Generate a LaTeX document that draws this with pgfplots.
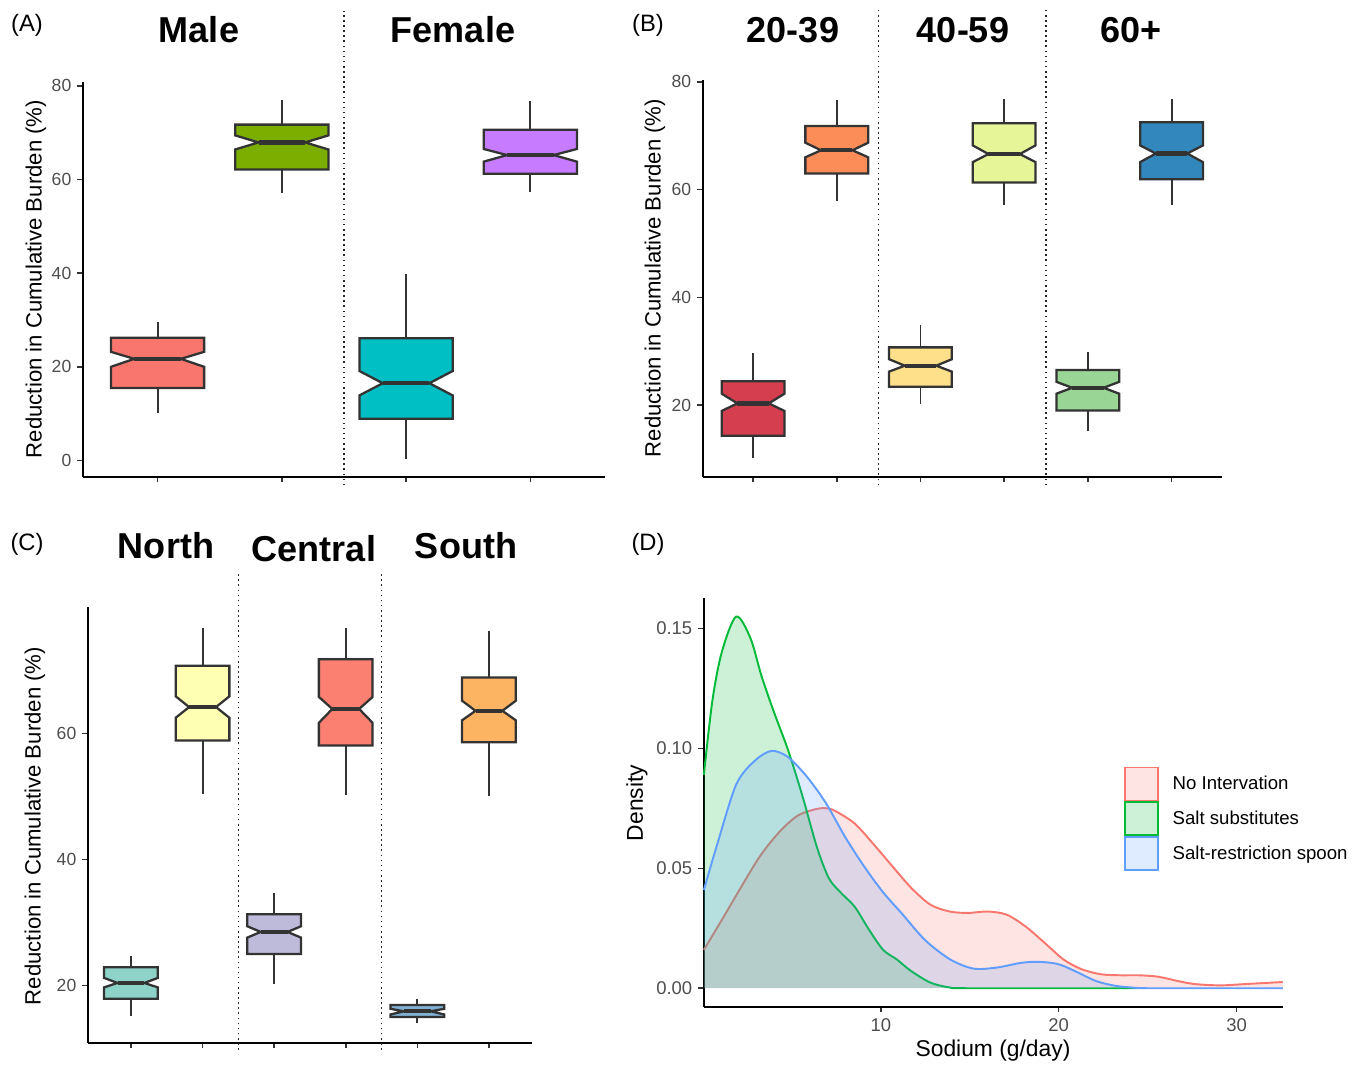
\documentclass[border=0pt]{standalone}
\usepackage{fontspec}
\setmainfont{Liberation Sans}
\usepackage{pgfplots}
\usepackage{pgfplotstable}
\pgfplotsset{compat=1.18}

\definecolor{boxline}{HTML}{333333}
\definecolor{tickgray}{HTML}{4D4D4D}
% panel A
\definecolor{aRed}{HTML}{F8766D}
\definecolor{aGreen}{HTML}{7CAE00}
\definecolor{aCyan}{HTML}{00BFC4}
\definecolor{aPurple}{HTML}{C77CFF}
% panel B
\definecolor{bRed}{HTML}{D53E4F}
\definecolor{bOrange}{HTML}{FC8D59}
\definecolor{bYellow}{HTML}{FEE08B}
\definecolor{bLime}{HTML}{E6F598}
\definecolor{bGreen}{HTML}{99D594}
\definecolor{bBlue}{HTML}{3288BD}
% panel C
\definecolor{cTeal}{HTML}{8DD3C7}
\definecolor{cYellow}{HTML}{FFFFB3}
\definecolor{cPurple}{HTML}{BEBADA}
\definecolor{cRed}{HTML}{FB8072}
\definecolor{cBlue}{HTML}{80B1D3}
\definecolor{cOrange}{HTML}{FDB462}
% panel D
\definecolor{dRed}{HTML}{F8766D}
\definecolor{dGreen}{HTML}{00BA38}
\definecolor{dBlue}{HTML}{619CFF}

\tikzset{divider/.style={dotted, line width=0.9pt, black!85}}
\pgfplotsset{
  panel/.style={
    scale only axis,
    anchor=south west,
    axis x line*=bottom,
    axis y line*=left,
    axis line style={line width=1pt, draw=black},
    tick align=outside,
    major tick length=0.11cm,
    tick style={line width=0.9pt, draw=boxline},
    tick label style={font=\fontsize{10}{11}\selectfont, text=tickgray},
    /pgf/number format/assume math mode=true,
    clip=false
  },
  boxpanel/.style={panel, xmin=0.4, xticklabels={,,,,,}}
}

% notched box: x, lower whisker, q1, notch low, median, notch high, q3, upper whisker, colour
\newcommand{\nbox}[9]{%
  \pgfmathsetmacro\xl{#1-0.375}\pgfmathsetmacro\xr{#1+0.375}%
  \pgfmathsetmacro\nl{#1-0.1875}\pgfmathsetmacro\nr{#1+0.1875}%
  \addplot[draw=boxline, line width=1.1pt] coordinates {(#1,#2) (#1,#3)};
  \addplot[draw=boxline, line width=1.1pt] coordinates {(#1,#7) (#1,#8)};
  \addplot[fill=#9, draw=boxline, line width=1.3pt, line join=miter]
    coordinates {(\xl,#3) (\xr,#3) (\xr,#4) (\nr,#5) (\xr,#6) (\xr,#7)
                 (\xl,#7) (\xl,#6) (\nl,#5) (\xl,#4)} -- cycle;
  \addplot[draw=boxline, line width=2.4pt] coordinates {(\nl,#5) (\nr,#5)};
}

\pgfplotstableread{
x y
0.05 0.016
1.07 0.0286
2.13 0.042
3.2 0.055
4.27 0.065
5.33 0.072
6.4 0.0748
7.0 0.075
7.47 0.0738
8.53 0.0687
9.6 0.060
10.67 0.0507
11.73 0.0417
12.8 0.0348
13.87 0.032
14.9 0.0314
16.0 0.032
17.07 0.0307
18.13 0.0258
19.2 0.019
20.27 0.012
21.3 0.0079
22.4 0.0058
23.5 0.0054
24.5 0.0054
25.6 0.0048
26.7 0.003
27.7 0.0017
29.1 0.0012
30.4 0.0017
32.6 0.0026
}\denNone

\pgfplotstableread{
x y
0.05 0.089
0.53 0.120
1.07 0.1405
1.87 0.155
2.67 0.146
3.3 0.130
4.0 0.115
4.8 0.099
5.6 0.080
6.4 0.059
7.07 0.046
7.73 0.040
8.53 0.034
9.33 0.0245
10.13 0.016
10.9 0.012
11.7 0.0072
12.8 0.0023
13.9 0.0003
15.0 0
24.5 0
}\denSubst

\pgfplotstableread{
x y
0.05 0.041
0.8 0.060
1.87 0.085
2.93 0.095
3.87 0.099
4.8 0.0963
5.87 0.088
6.93 0.077
8.0 0.063
9.07 0.0507
10.13 0.040
11.2 0.031
12.5 0.020
13.9 0.012
15.2 0.0082
16.5 0.0086
17.9 0.0106
18.9 0.011
20.0 0.010
21.1 0.0065
22.1 0.003
23.2 0.001
24.5 0.0001
26.0 0
32.6 0
}\denSpoon

\begin{document}
\begin{tikzpicture}

% ---------- (A) sex ----------
\begin{axis}[boxpanel,
  at={(1.66cm,-9.54cm)},
  width=10.44cm, height=7.9cm,
  xmax=4.6, ymin=-3.5, ymax=80.8,
  xtick={1,2,3,4}, ytick={0,20,40,60,80}]
  \nbox{1}{10.2}{15.5}{20.0}{21.7}{23.2}{26.2}{29.6}{aRed}
  \nbox{2}{57.2}{62.1}{66.4}{67.9}{69.4}{71.7}{77.0}{aGreen}
  \nbox{3}{0.4}{8.9}{13.9}{16.5}{19.1}{26.1}{39.9}{aCyan}
  \nbox{4}{57.4}{61.2}{63.8}{65.2}{66.5}{70.6}{76.7}{aPurple}
  \draw[divider] (axis cs:2.5,-5.3) -- (axis cs:2.5,96);
\end{axis}

% ---------- (B) age ----------
\begin{axis}[boxpanel,
  at={(14.06cm,-9.54cm)},
  width=10.38cm, height=7.94cm,
  xmax=6.6, ymin=6.65, ymax=80.35,
  xtick={1,2,3,4,5,6}, ytick={20,40,60,80}]
  \nbox{1}{10.1}{14.3}{18.9}{20.3}{22.1}{24.4}{29.6}{bRed}
  \nbox{2}{57.8}{63.0}{66.0}{67.3}{68.7}{71.8}{76.7}{bOrange}
  \nbox{3}{20.1}{23.4}{26.2}{27.3}{28.5}{30.7}{34.8}{bYellow}
  \nbox{4}{57.1}{61.3}{65.1}{66.6}{68.2}{72.3}{76.8}{bLime}
  \nbox{5}{15.1}{19.0}{22.1}{23.2}{24.3}{26.5}{29.8}{bGreen}
  \nbox{6}{57.2}{61.9}{65.1}{66.7}{68.2}{72.5}{76.8}{bBlue}
  \draw[divider] (axis cs:2.5,5.1) -- (axis cs:2.5,93.3);
  \draw[divider] (axis cs:4.5,5.1) -- (axis cs:4.5,93.3);
\end{axis}

% ---------- (C) region ----------
\begin{axis}[boxpanel,
  at={(1.76cm,-20.86cm)},
  width=8.88cm, height=8.72cm,
  xmax=6.6, ymin=10.9, ymax=80.1,
  xtick={1,2,3,4,5,6}, ytick={20,40,60}]
  \nbox{1}{15.1}{17.9}{19.7}{20.4}{21.2}{22.9}{24.7}{cTeal}
  \nbox{2}{50.4}{58.9}{62.5}{64.2}{65.9}{70.75}{76.7}{cYellow}
  \nbox{3}{20.3}{25.0}{27.6}{28.5}{29.4}{31.3}{34.7}{cPurple}
  \nbox{4}{50.3}{58.1}{61.7}{63.9}{65.8}{71.8}{76.7}{cRed}
  \nbox{5}{14.0}{15.0}{15.4}{15.9}{16.3}{16.9}{17.9}{cBlue}
  \nbox{6}{50.1}{58.6}{62.1}{63.6}{65.2}{68.9}{76.3}{cOrange}
  \draw[divider] (axis cs:2.5,9.8) -- (axis cs:2.5,85.6);
  \draw[divider] (axis cs:4.5,9.8) -- (axis cs:4.5,85.6);
\end{axis}

% ---------- (D) sodium density ----------
\begin{axis}[panel,
  at={(14.08cm,-20.14cm)},
  width=11.58cm, height=8.18cm,
  xmin=0.05, xmax=32.6, ymin=-0.00775, ymax=0.1628,
  xtick={10,20,30}, ytick={0,0.05,0.1,0.15},
  scaled y ticks=false,
  tick label style={font=\fontsize{10.5}{12}\selectfont},
  yticklabel style={/pgf/number format/.cd, fixed, fixed zerofill, precision=2},
  legend image code/.code={\draw[#1, line width=1.1pt] (0cm,-0.33cm) rectangle (0.66cm,0.33cm);},
  legend style={at={(0.716,0.597)}, anchor=north west, draw=none, fill=none,
    font=\fontsize{10.6}{12}\selectfont, row sep=0pt, column sep=0.24cm,
    nodes={inner sep=1pt}},
  legend cell align={left}]
  \addplot[fill=dRed, fill opacity=0.2, draw=none, smooth, forget plot] table {\denNone} \closedcycle;
  \addplot[draw=dRed, line width=1.1pt, smooth, forget plot] table {\denNone};
  \addplot[fill=dGreen, fill opacity=0.2, draw=none, smooth, forget plot] table {\denSubst} \closedcycle;
  \addplot[draw=dGreen, line width=1.1pt, smooth, forget plot] table {\denSubst};
  \addplot[fill=dBlue, fill opacity=0.2, draw=none, smooth, forget plot] table {\denSpoon} \closedcycle;
  \addplot[draw=dBlue, line width=1.1pt, smooth, forget plot] table {\denSpoon};
  \addlegendimage{draw=dRed, fill=dRed, fill opacity=0.2}
  \addlegendentry{No Intervation}
  \addlegendimage{draw=dGreen, fill=dGreen, fill opacity=0.2}
  \addlegendentry{Salt substitutes}
  \addlegendimage{draw=dBlue, fill=dBlue, fill opacity=0.2}
  \addlegendentry{Salt-restriction spoon}
\end{axis}

% ---------- labels, in pixel units of the reference ----------
\begin{scope}[x=0.02cm, y=-0.02cm]
  \path (0,0) rectangle (1363,1065);
  \tikzset{plab/.style={font=\fontsize{13.5}{15}\selectfont},
           strip/.style={font=\fontsize{20.5}{22}\selectfont\bfseries},
           ylab/.style={font=\fontsize{12.6}{14}\selectfont, rotate=90}}
  \node[plab] at (27,25) {(A)};
  \node[plab] at (648,25) {(B)};
  \node[plab] at (27,544) {(C)};
  \node[plab] at (648,544) {(D)};
  \node[strip] at (199,30) {Male};
  \node[strip] at (453,30) {Female};
  \node[strip] at (793,30) {20-39};
  \node[strip] at (963,30) {40-59};
  \node[strip] at (1131,30) {60+};
  \node[strip] at (166,546) {North};
  \node[strip] at (314,549) {Central};
  \node[strip] at (466,546) {South};
  \node[ylab] at (36,279) {Reduction in Cumulative Burden (\%)};
  \node[ylab] at (655,278) {Reduction in Cumulative Burden (\%)};
  \node[ylab] at (35,826) {Reduction in Cumulative Burden (\%)};
  \node[ylab, font=\fontsize{13}{14}\selectfont] at (637,803) {Density};
  \node[font=\fontsize{13}{14}\selectfont] at (993,1051) {Sodium (g/day)};
\end{scope}

\end{tikzpicture}
\end{document}
